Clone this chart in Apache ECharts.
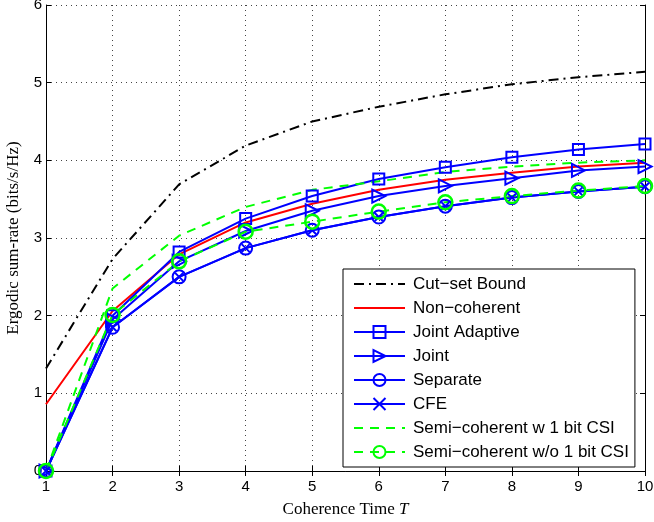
<!DOCTYPE html>
<html>
<head>
<meta charset="utf-8">
<script src="https://cdn.jsdelivr.net/npm/echarts@6/dist/echarts.min.js"></script>
<style>
  html, body { margin: 0; padding: 0; background: #fff; }
  #chart { width: 654px; height: 522px; }
</style>
</head>
<body>
<div id="chart"></div>
<script>
// coherence time T
const coherenceTime = [1, 2, 3, 4, 5, 6, 7, 8, 9, 10];

// ergodic sum-rate per scheme (bits/s/Hz)
const cutSetBound = [1.32, 2.73, 3.69, 4.19, 4.50, 4.69, 4.85, 4.98, 5.07, 5.14];
const nonCoherent = [0.86, 2.06, 2.79, 3.20, 3.44, 3.62, 3.75, 3.84, 3.92, 3.97];
const jointAdaptive = [0, 2.00, 2.82, 3.25, 3.54, 3.76, 3.91, 4.04, 4.14, 4.21];
const joint = [0, 1.95, 2.70, 3.09, 3.35, 3.54, 3.67, 3.77, 3.87, 3.92];
const separate = [0, 1.85, 2.50, 2.87, 3.10, 3.27, 3.41, 3.52, 3.60, 3.66];
const cfe = [0, 1.85, 2.50, 2.87, 3.10, 3.27, 3.41, 3.52, 3.60, 3.66];
const semiW1bit = [0, 2.35, 3.03, 3.40, 3.62, 3.73, 3.85, 3.92, 3.97, 4.00];
const semiWo1bit = [0, 2.01, 2.70, 3.08, 3.21, 3.34, 3.46, 3.54, 3.61, 3.67];

const yTicks = [0, 1, 2, 3, 4, 5, 6];

const BLUE = '#0000ff';
const RED = '#ff0000';
const GREEN = '#00ff00';
const CLEAR = 'rgba(0,0,0,0)';
const pairs = arr => coherenceTime.map((t, i) => [t, arr[i]]);

const chart = echarts.init(document.getElementById('chart'), null, { renderer: 'canvas' });

function lineSeries(name, data, color, extra) {
  return Object.assign({
    name,
    type: 'line',
    data: pairs(data),
    clip: false,
    symbol: 'none',
    lineStyle: { color, width: 2 },
    itemStyle: { color: CLEAR, borderColor: color, borderWidth: 2 },
    emphasis: { disabled: true },
    animation: false
  }, extra);
}

// plain lines: hide the fallback circle echarts puts in the legend
const noMarker = { color: CLEAR, borderColor: CLEAR, borderWidth: 0 };

const tickAxis = {
  min: 1, max: 10, interval: 1,
  axisLine: { lineStyle: { color: '#000', width: 1 } },
  axisTick: { inside: true, length: 5, lineStyle: { color: '#000' } },
  splitLine: { show: false },
  axisLabel: { show: false }
};

const gridLine = { show: true, lineStyle: { color: '#444', type: [1, 4], width: 1 } };

const option = {
  backgroundColor: '#fff',
  grid: { left: 46, right: 9, top: 5, bottom: 51, containLabel: false, outerBoundsMode: 'none' },
  xAxis: [
    Object.assign({}, tickAxis, {
      type: 'value',
      position: 'bottom',
      name: '{n|Coherence Time }{i|T}',
      nameLocation: 'middle',
      nameGap: 30,
      nameTextStyle: {
        rich: {
          n: { fontFamily: 'Liberation Serif', fontSize: 17, color: '#000' },
          i: { fontFamily: 'Liberation Serif', fontSize: 17, fontStyle: 'italic', color: '#000' }
        }
      },
      axisLabel: { show: true, fontFamily: 'Liberation Sans', fontSize: 15, color: '#000', margin: 8 },
      splitLine: gridLine
    }),
    Object.assign({}, tickAxis, { type: 'value', position: 'top' })
  ],
  yAxis: [
    Object.assign({}, tickAxis, {
      type: 'value',
      min: yTicks[0], max: yTicks[yTicks.length - 1], interval: 1,
      position: 'left',
      name: 'Ergodic sum-rate (bits/s/Hz)',
      nameLocation: 'middle',
      nameGap: 24,
      nameTextStyle: { fontFamily: 'Liberation Serif', fontSize: 17, color: '#000' },
      axisLabel: { show: true, fontFamily: 'Liberation Sans', fontSize: 15, color: '#000', margin: 4 },
      splitLine: gridLine
    }),
    Object.assign({}, tickAxis, {
      type: 'value', min: 0, max: 6, interval: 1, position: 'right'
    })
  ],
  legend: {
    orient: 'vertical',
    left: 343,
    top: 269,
    padding: [5, 6, 5, 10],
    itemWidth: 51,
    itemHeight: 15,
    itemGap: 4,
    backgroundColor: '#fff',
    borderColor: '#000',
    borderWidth: 1,
    borderRadius: 0,
    selectedMode: false,
    textStyle: { fontFamily: 'Liberation Sans', fontSize: 17, color: '#000', lineHeight: 20, padding: [0, 0, 0, 3] },
    data: [
      'Cut\u2212set Bound', 'Non\u2212coherent', 'Joint Adaptive', 'Joint', 'Separate', 'CFE',
      'Semi\u2212coherent w 1 bit CSI', 'Semi\u2212coherent w/o 1 bit CSI'
    ]
  },
  series: [
    lineSeries('Cut\u2212set Bound', cutSetBound, '#000', {
      lineStyle: { color: '#000', width: 2, type: [10, 5, 2, 5] },
      itemStyle: noMarker
    }),
    lineSeries('Non\u2212coherent', nonCoherent, RED, { itemStyle: noMarker }),
    lineSeries('Joint Adaptive', jointAdaptive, BLUE, { symbol: 'rect', symbolSize: 11 }),
    lineSeries('Joint', joint, BLUE, { symbol: 'triangle', symbolSize: [13, 13], symbolRotate: -90 }),
    lineSeries('Separate', separate, BLUE, { symbol: 'circle', symbolSize: 13 }),
    lineSeries('CFE', cfe, BLUE, {
      symbol: 'path://M0,0L10,10M10,0L0,10',
      symbolSize: 8,
      itemStyle: { color: BLUE, borderColor: BLUE, borderWidth: 2 }
    }),
    lineSeries('Semi\u2212coherent w 1 bit CSI', semiW1bit, GREEN, {
      lineStyle: { color: GREEN, width: 2, type: [9, 7] },
      itemStyle: noMarker
    }),
    lineSeries('Semi\u2212coherent w/o 1 bit CSI', semiWo1bit, GREEN, {
      symbol: 'circle',
      symbolSize: 14,
      lineStyle: { color: GREEN, width: 2, type: [9, 7] },
      itemStyle: { color: CLEAR, borderColor: GREEN, borderWidth: 2.5 }
    })
  ]
};

chart.setOption(option);
</script>
</body>
</html>
